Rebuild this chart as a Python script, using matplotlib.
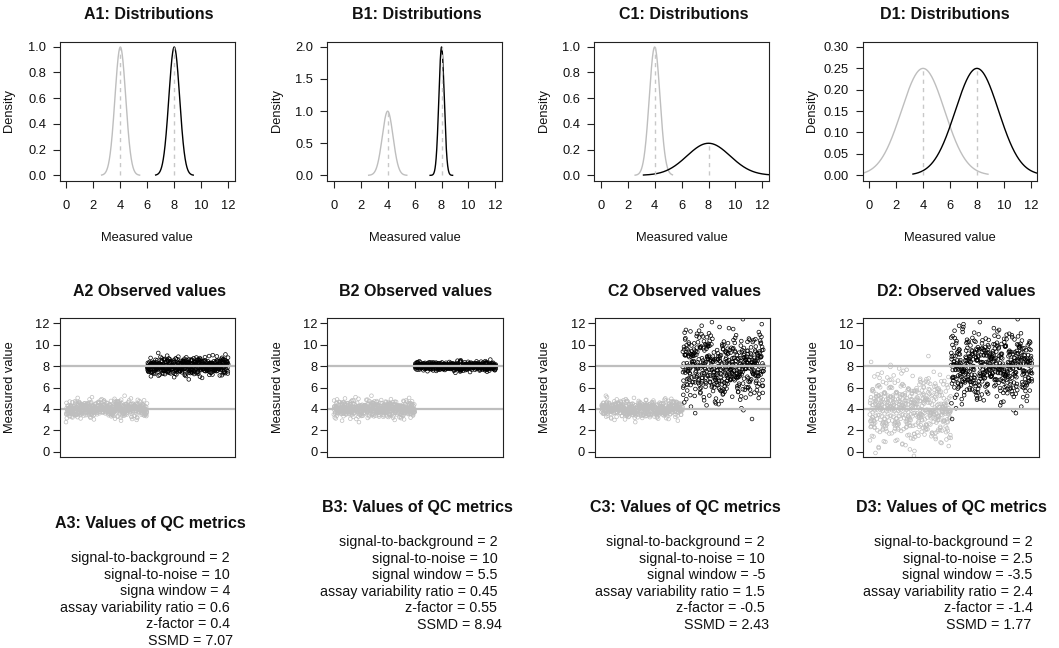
import numpy as np
import matplotlib
matplotlib.use("Agg")
import matplotlib.pyplot as plt
from statistics import NormalDist

# ---------------- data ----------------
panels = ["A", "B", "C", "D"]
bg_mean = [4, 4, 4, 4]
bg_sd = [0.4, 0.4, 0.4, 1.6]
sig_mean = [8, 8, 8, 8]
sig_sd = [0.4, 0.2, 1.6, 1.6]
# x-range over which each density curve is drawn
bg_lo = [2.61, 2.59, 2.55, -0.8]
bg_hi = [5.43, 5.42, 5.32, 8.82]
sig_lo = [6.62, 7.15, 3.17, 3.25]
sig_hi = [9.41, 8.82, 12.83, 12.8]
dens_ymax = [1.0, 2.0, 1.0, 0.30]
dens_ystep = [0.2, 0.5, 0.2, 0.05]
dens_yfmt = ["%.1f", "%.1f", "%.1f", "%.2f"]
x_ticks = [0, 2, 4, 6, 8, 10, 12]
obs_ticks = [0, 2, 4, 6, 8, 10, 12]
n_per_group = 500
ref_lines = [4, 8]

titles1 = ["A1: Distributions", "B1: Distributions", "C1: Distributions", "D1: Distributions"]
titles2 = ["A2 Observed values", "B2 Observed values", "C2 Observed values", "D2: Observed values"]
titles3 = ["A3: Values of QC metrics", "B3: Values of QC metrics",
           "C3: Values of QC metrics", "D3: Values of QC metrics"]
metric_names = [
    ["signal-to-background", "signal-to-noise", "signa window", "assay variability ratio", "z-factor", "SSMD"],
    ["signal-to-background", "signal-to-noise", "signal window", "assay variability ratio", "z-factor", "SSMD"],
    ["signal-to-background", "signal-to-noise", "signal window", "assay variability ratio", "z-factor", "SSMD"],
    ["signal-to-background", "signal-to-noise", "signal window", "assay variability ratio", "z-factor", "SSMD"],
]
metric_values = [
    ["2", "10", "4", "0.6", "0.4", "7.07"],
    ["2", "10", "5.5", "0.45", "0.55", "8.94"],
    ["2", "10", "-5", "1.5", "-0.5", "2.43"],
    ["2", "2.5", "-3.5", "2.4", "-1.4", "1.77"],
]

# ---------------- layout (pixels) ----------------
W, H = 1059, 648
plt.rcParams["font.family"] = ["Liberation Sans", "DejaVu Sans"]
fig = plt.figure(figsize=(W / 100, H / 100), dpi=100)

GREY = "#bebebe"
LGREY = "#c8c8c8"
TXT = "#111111"
PT = 72 / 100  # points per pixel

row1_left = [60, 327.3, 594.3, 862.7]
row1_top, row1_bot, box_w = 41.5, 180.5, 174.6
row2_left = [59.5, 327.3, 595, 863.3]
row2_top, row2_bot, box_w2 = 318.3, 456.8, 175.2
t1_x = [148.7, 416.7, 683.8, 944.8]
t2_x = [149.7, 415.3, 684.3, 955.8]
t3_x = [150, 417.5, 685.2, 951.8]
t3_y = [528, 511.7, 511.7, 511.7]
m_right = [230, 497.3, 765, 1032.7]
m_ssmd_right = [233.3, 501.7, 769, 1031]
m_y0 = [562, 546, 546, 546]
m_dy = 16.6

TITLE_FS = 11.5
LAB_FS = 9.3
MET_FS = 10.3


def rect(l, t, r, b):
    return [l / W, 1 - b / H, (r - l) / W, (b - t) / H]


def ftext(x, y, s, **kw):
    fig.text(x / W, 1 - y / H, s, **kw)


def style_axes(ax):
    for sp in ax.spines.values():
        sp.set_linewidth(0.8)
        sp.set_color("#222222")
    ax.tick_params(direction="out", length=7 * PT, width=0.8, colors="#222222",
                   labelsize=LAB_FS, labelcolor=TXT)


def npdf(x, m, s):
    return np.exp(-0.5 * ((x - m) / s) ** 2) / (s * np.sqrt(2 * np.pi))


def group_values(mean, sd, n, a, b):
    nd = NormalDist(mean, sd)
    q = np.array([nd.inv_cdf((k + 0.5) / n) for k in range(n)])
    i = np.arange(n, dtype=float)
    key = np.mod(i * i * np.sqrt(2) * a + i * np.sqrt(3) + b, 1.0)
    out = np.empty(n)
    out[np.argsort(key)] = q
    return out


for p in range(4):
    # ---------- row 1: distributions ----------
    ax = fig.add_axes(rect(row1_left[p], row1_top, row1_left[p] + box_w, row1_bot))
    style_axes(ax)
    ym = dens_ymax[p]
    ax.set_xlim(-0.48, 12.48)
    ax.set_ylim(-0.04 * ym, 1.04 * ym)
    xb = np.linspace(bg_lo[p], bg_hi[p], 400)
    xs = np.linspace(sig_lo[p], sig_hi[p], 400)
    ax.plot(xb, npdf(xb, bg_mean[p], bg_sd[p]), color=GREY, lw=1.0)
    ax.plot(xs, npdf(xs, sig_mean[p], sig_sd[p]), color="black", lw=1.0)
    for m, s in ((bg_mean[p], bg_sd[p]), (sig_mean[p], sig_sd[p])):
        ax.plot([m, m], [0, npdf(m, m, s)], color=LGREY, lw=1.0, ls=(0, (3, 3)))
    ax.set_xticks(x_ticks)
    ax.set_xticklabels([str(v) for v in x_ticks])
    yt = np.arange(0, ym + 1e-9, dens_ystep[p])
    ax.set_yticks(yt)
    ax.set_yticklabels([dens_yfmt[p] % v for v in yt])
    ax.tick_params(axis="x", pad=9)
    ax.tick_params(axis="y", pad=5)
    ftext(t1_x[p], 19.3, titles1[p], ha="center", va="baseline",
          fontsize=TITLE_FS, fontweight="bold", color=TXT)
    ftext(row1_left[p] + box_w / 2, 240.7, "Measured value", ha="center", va="baseline",
          fontsize=LAB_FS, color=TXT)
    ftext(row1_left[p] - 50.5, (row1_top + row1_bot) / 2, "Density", ha="center", va="center",
          rotation=90, fontsize=LAB_FS, color=TXT)

    # ---------- row 2: observed values ----------
    ax2 = fig.add_axes(rect(row2_left[p], row2_top, row2_left[p] + box_w2, row2_bot))
    style_axes(ax2)
    n = n_per_group
    yb = group_values(bg_mean[p], bg_sd[p], n, 1.0 + 0.13 * p, 0.11 * p)
    ys = group_values(sig_mean[p], sig_sd[p], n, 1.7 + 0.07 * p, 0.37 + 0.05 * p)
    xb_i = np.arange(1, n + 1)
    xs_i = np.arange(n + 1, 2 * n + 1)
    ax2.scatter(xb_i, yb, s=7, facecolors="none", edgecolors=GREY, linewidths=0.5)
    ax2.scatter(xs_i, ys, s=7, facecolors="none", edgecolors="black", linewidths=0.5)
    for r in ref_lines:
        ax2.axhline(r, color=GREY, lw=1.6)
    ax2.set_xlim(1 - 0.04 * (2 * n - 1), 2 * n + 0.04 * (2 * n - 1))
    ax2.set_ylim(-0.48, 12.48)
    ax2.set_xticks([])
    ax2.set_yticks(obs_ticks)
    ax2.set_yticklabels([str(v) for v in obs_ticks])
    ax2.tick_params(axis="y", pad=2)
    ftext(t2_x[p], 296, titles2[p], ha="center", va="baseline",
          fontsize=TITLE_FS, fontweight="bold", color=TXT)
    ftext(row2_left[p] - 49.5, (row2_top + row2_bot) / 2, "Measured value", ha="center",
          va="center", rotation=90, fontsize=LAB_FS, color=TXT)

    # ---------- row 3: QC metrics text ----------
    ftext(t3_x[p], t3_y[p], titles3[p], ha="center", va="baseline",
          fontsize=TITLE_FS, fontweight="bold", color=TXT)
    for k, (nm, val) in enumerate(zip(metric_names[p], metric_values[p])):
        xr = m_ssmd_right[p] if nm == "SSMD" else m_right[p]
        ftext(xr, m_y0[p] + k * m_dy, f"{nm} = {val}", ha="right", va="baseline",
              fontsize=MET_FS, color=TXT)

fig.savefig("out.png", dpi=100)
